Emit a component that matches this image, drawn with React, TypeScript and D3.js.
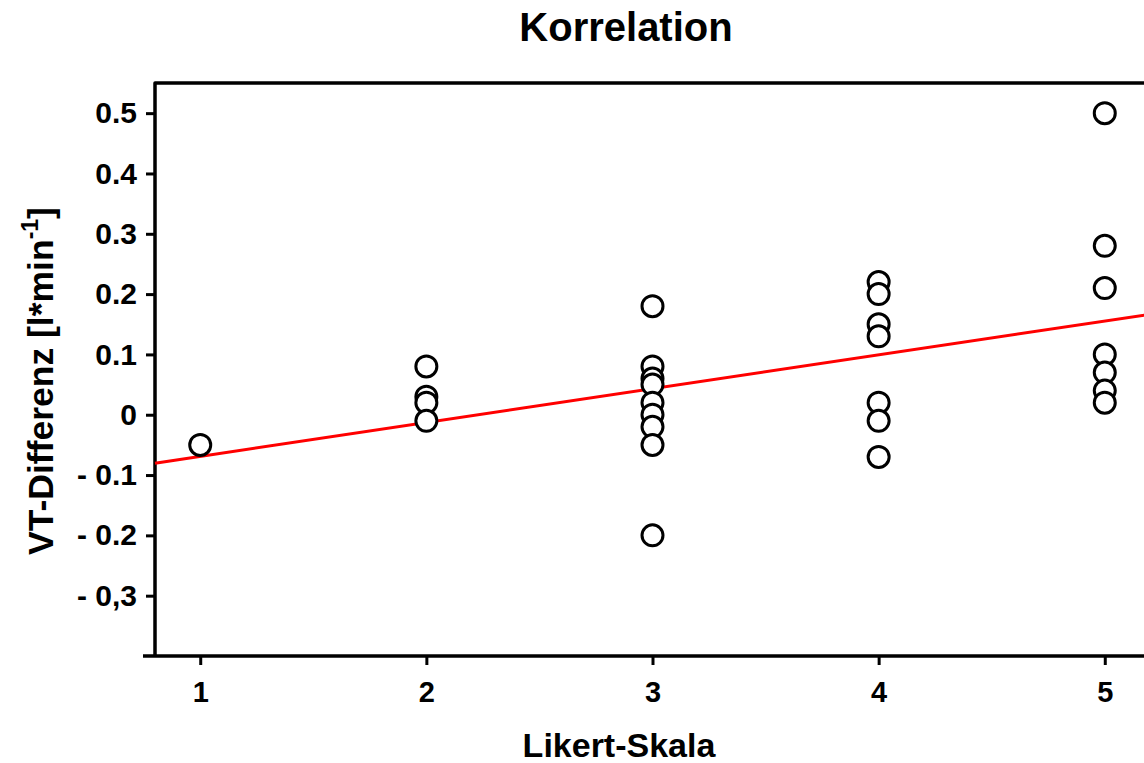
import { useEffect, useRef } from 'react'
import * as d3 from 'd3'

// Likert score (x) and VT difference (y) per subject
const likertX = [
  1,
  2, 2, 2, 2,
  3, 3, 3, 3, 3, 3, 3, 3, 3,
  4, 4, 4, 4, 4, 4, 4,
  5, 5, 5, 5, 5, 5, 5,
]
const vtDiff = [
  -0.05,
  0.08, 0.03, 0.02, -0.01,
  0.18, 0.08, 0.06, 0.05, 0.02, 0, -0.02, -0.05, -0.2,
  0.22, 0.2, 0.15, 0.13, 0.02, -0.01, -0.07,
  0.5, 0.28, 0.21, 0.1, 0.07, 0.04, 0.02,
]

const xTicks = [1, 2, 3, 4, 5]
const yTicks = [-0.3, -0.2, -0.1, 0, 0.1, 0.2, 0.3, 0.4, 0.5]
const yTickLabels = ['- 0,3', '- 0.2', '- 0.1', '0', '0.1', '0.2', '0.3', '0.4', '0.5']

const W = 1144
const H = 763
const FONT = '"Liberation Sans", Arial, Helvetica, sans-serif'

export default function App() {
  const svgRef = useRef<SVGSVGElement>(null)

  useEffect(() => {
    const svg = d3.select(svgRef.current)
    svg.selectAll('*').remove()

    const left = 155, right = 1150, top = 83, bottom = 656

    const x = d3.scaleLinear().domain([0.8, 5.2]).range([left, right])
    const y = d3.scaleLinear().domain([-0.4, 0.55]).range([bottom, top])

    const points = likertX.map((v, i) => ({ x: v, y: vtDiff[i] }))

    // least squares fit
    const mx = d3.mean(likertX) as number
    const my = d3.mean(vtDiff) as number
    const sxy = d3.sum(points, d => (d.x - mx) * (d.y - my))
    const sxx = d3.sum(points, d => (d.x - mx) * (d.x - mx))
    const slope = sxy / sxx
    const intercept = my - slope * mx

    // frame (right side falls outside the picture)
    svg.append('path')
      .attr('d', `M${left},${bottom}V${top}H${right}`)
      .attr('fill', 'none')
      .attr('stroke', '#000')
      .attr('stroke-width', 3.5)
      .attr('stroke-linejoin', 'round')

    // regression line
    const dom = x.domain()
    const line = d3.line<number>().x(d => x(d)).y(d => y(intercept + slope * d))
    svg.append('path')
      .attr('d', line(dom))
      .attr('fill', 'none')
      .attr('stroke', '#ff0000')
      .attr('stroke-width', 3)

    // points
    svg.append('g')
      .selectAll('circle')
      .data(points)
      .join('circle')
      .attr('cx', d => x(d.x))
      .attr('cy', d => y(d.y))
      .attr('r', 10.5)
      .attr('fill', '#fff')
      .attr('stroke', '#000')
      .attr('stroke-width', 3)

    // Y axis
    const yAxis = svg.append('g')
      .attr('transform', `translate(${left},0)`)
      .call(d3.axisLeft(y)
        .tickValues(yTicks)
        .tickFormat((d, i) => yTickLabels[i])
        .tickSize(9)
        .tickSizeOuter(0)
        .tickPadding(9))
    yAxis.select('.domain').remove()
    yAxis.selectAll('line').attr('stroke', '#000').attr('stroke-width', 3)
    yAxis.selectAll('text')
      .attr('font-family', FONT)
      .attr('font-size', 30)
      .attr('font-weight', 'bold')
      .attr('fill', '#000')

    // X axis
    const xAxis = svg.append('g')
      .attr('transform', `translate(0,${bottom})`)
      .call(d3.axisBottom(x)
        .tickValues(xTicks)
        .tickFormat(d3.format('d'))
        .tickSize(9)
        .tickSizeOuter(0)
        .tickPadding(16))
    xAxis.select('.domain').remove()
    xAxis.selectAll('line').attr('stroke', '#000').attr('stroke-width', 3)
    xAxis.selectAll('text')
      .attr('font-family', FONT)
      .attr('font-size', 29)
      .attr('font-weight', 'bold')
      .attr('fill', '#000')

    // bottom axis line, a little past the left axis
    svg.append('line')
      .attr('x1', left - 12).attr('x2', right)
      .attr('y1', bottom).attr('y2', bottom)
      .attr('stroke', '#000')
      .attr('stroke-width', 3.5)

    // title
    svg.append('text')
      .attr('x', 626)
      .attr('y', 41)
      .attr('text-anchor', 'middle')
      .attr('font-family', FONT)
      .attr('font-size', 40)
      .attr('font-weight', 'bold')
      .text('Korrelation')

    // x label
    svg.append('text')
      .attr('x', 619)
      .attr('y', 757)
      .attr('text-anchor', 'middle')
      .attr('font-family', FONT)
      .attr('font-size', 34)
      .attr('font-weight', 'bold')
      .text('Likert-Skala')

    // y label
    const yl = svg.append('text')
      .attr('transform', 'translate(53,381) rotate(-90)')
      .attr('text-anchor', 'middle')
      .attr('font-family', FONT)
      .attr('font-size', 35.5)
      .attr('font-weight', 'bold')
    yl.append('tspan').text('VT-Differenz [l*min')
    yl.append('tspan').attr('font-size', 23).attr('dy', -15).text('-1')
    yl.append('tspan').attr('dy', 15).text(']')
  }, [])

  return (
    <svg
      ref={svgRef}
      width={W}
      height={H}
      style={{ position: 'absolute', left: 0, top: 0, background: '#fff' }}
    />
  )
}
